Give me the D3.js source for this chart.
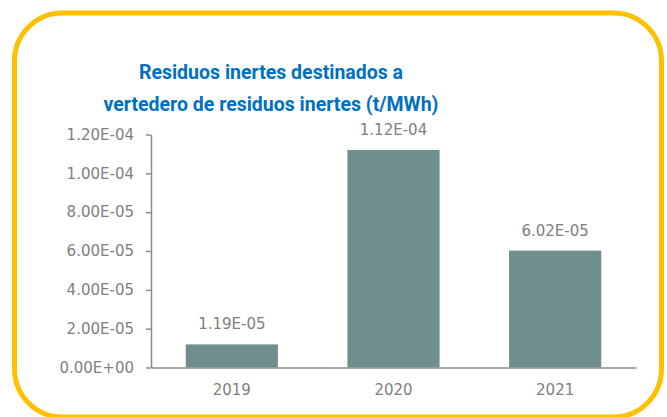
<!DOCTYPE html>
<html>
<head>
<meta charset="utf-8">
<script src="https://cdn.jsdelivr.net/npm/d3@7"></script>
<style>
  html, body { margin: 0; padding: 0; background: #fff; }
  svg { display: block; }
</style>
</head>
<body>
<svg id="chart" width="667" height="417"></svg>
<script>
// Inert waste sent to inert-waste landfill, tonnes per MWh
const years = ["2019", "2020", "2021"];
const values = [1.19e-5, 1.12e-4, 6.02e-5];
const valueLabels = ["1.19E-05", "1.12E-04", "6.02E-05"];
const tickValues = [0, 2e-5, 4e-5, 6e-5, 8e-5, 1e-4, 1.2e-4];
const tickLabels = ["0.00E+00", "2.00E-05", "4.00E-05", "6.00E-05", "8.00E-05", "1.00E-04", "1.20E-04"];
const titleLines = ["Residuos inertes destinados a", "vertedero de residuos inertes (t/MWh)"];

const TITLE_FONT = "Roboto, 'DejaVu Sans', sans-serif";
const LABEL_FONT = "'DejaVu Sans', sans-serif";
const LABEL_SIZE = 15;
const GREY = "#808080";
const svg = d3.select("#chart");

// rounded yellow frame
svg.append("rect")
  .attr("x", 14.5).attr("y", 13).attr("width", 647).attr("height", 404)
  .attr("rx", 48).attr("ry", 48)
  .attr("fill", "#fff").attr("stroke", "#ffc000").attr("stroke-width", 5);

// title
svg.append("g").selectAll("text").data(titleLines).join("text")
  .attr("x", 271).attr("y", (d, i) => 79 + i * 31.5)
  .attr("text-anchor", "middle")
  .attr("fill", "#0070c0").attr("font-weight", "bold").attr("font-size", 19.5)
  .style("font-family", TITLE_FONT)
  .text(d => d);

const x0 = 151, x1 = 636, yBase = 367.5, yTop = 134.5;
const x = d3.scaleBand().domain(years).range([x0, x1]).paddingInner(0.43).paddingOuter(0.215);
const y = d3.scaleLinear().domain([0, 1.2e-4]).range([yBase, yTop]);

// bars
svg.append("g").selectAll("rect").data(values).join("rect")
  .attr("x", (d, i) => x(years[i]))
  .attr("y", d => y(d))
  .attr("width", x.bandwidth())
  .attr("height", d => yBase - y(d))
  .attr("fill", "#6e8f8c");

// value labels
svg.append("g").selectAll("text").data(values).join("text")
  .attr("x", (d, i) => x(years[i]) + x.bandwidth() / 2)
  .attr("y", d => y(d) - 15)
  .attr("text-anchor", "middle")
  .attr("fill", GREY).attr("font-size", LABEL_SIZE)
  .style("font-family", LABEL_FONT)
  .text((d, i) => valueLabels[i]);

// y axis
const yAxis = d3.axisLeft(y).tickValues(tickValues)
  .tickFormat((d, i) => tickLabels[i]).tickSize(5).tickPadding(12).tickSizeOuter(0);
const gy = svg.append("g").attr("transform", `translate(${x0},0)`).call(yAxis);
gy.attr("font-size", LABEL_SIZE).attr("font-family", LABEL_FONT);
gy.select(".domain").attr("stroke", "#8c8c8c").attr("stroke-width", 1.5);
gy.selectAll(".tick line").attr("stroke", "#8c8c8c").attr("stroke-width", 1.5);
gy.selectAll(".tick text").attr("fill", GREY);

// x axis
const xAxis = d3.axisBottom(x).tickSize(0).tickPadding(17).tickSizeOuter(0);
const gx = svg.append("g").attr("transform", `translate(0,${yBase})`).call(xAxis);
gx.attr("font-size", LABEL_SIZE).attr("font-family", LABEL_FONT);
gx.select(".domain").attr("stroke", "#8c8c8c").attr("stroke-width", 1.5);
gx.selectAll(".tick text").attr("fill", GREY);
</script>
</body>
</html>
